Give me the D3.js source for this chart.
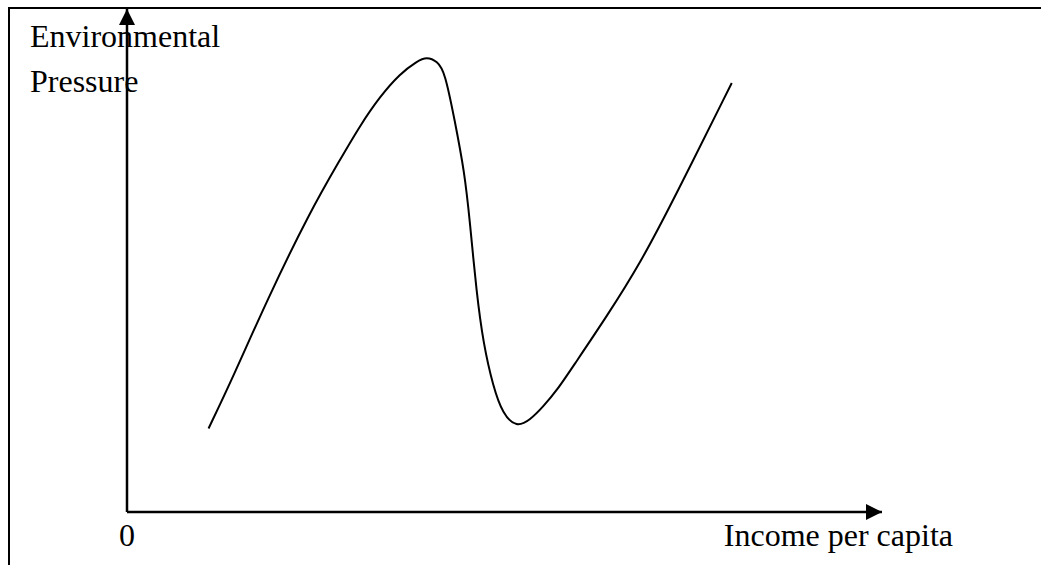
<!DOCTYPE html>
<html>
<head>
<meta charset="utf-8">
<script src="https://cdn.jsdelivr.net/npm/d3@7"></script>
<style>
  body { margin: 0; background: #fff; }
  svg text { font-family: "Liberation Serif", "Times New Roman", serif; fill: #000; }
</style>
</head>
<body>
<div id="chart"></div>
<script>
// income (x) and pressure (y), both on a 0..100 scale
var income = [10.8, 14.1, 18.5, 24.2, 28.2, 30.9, 33.5, 36.2, 38.4, 39.7, 41.1, 42.1, 43.4, 44.7, 45.4, 46.3, 47.2, 48.5, 49.8, 51.6, 53.4, 55.1, 57.0, 59.1, 63.6, 68.0, 72.3, 80.1];
var pressure = [16.6, 27.0, 42.0, 59.6, 70.0, 76.9, 82.6, 87.2, 89.6, 90.5, 89.6, 87.5, 77.9, 67.6, 58.0, 43.5, 33.5, 24.9, 19.4, 16.8, 18.3, 20.9, 24.3, 29.0, 39.0, 49.5, 61.8, 85.3];
var yLabel = ['Environmental', 'Pressure'];
var xLabel = 'Income per capita';
var originLabel = '0';

var width = 1041, height = 565;

var svg = d3.select('#chart')
  .append('svg')
  .attr('width', width)
  .attr('height', height);

var x = d3.scaleLinear().domain([0, 100]).range([127, 882]);
var y = d3.scaleLinear().domain([0, 100]).range([512, 9]);

// frame (top and left edge only)
svg.append('path')
  .attr('d', 'M9,' + height + ' V8 H' + width)
  .attr('fill', 'none')
  .attr('stroke', '#000')
  .attr('stroke-width', 2);

// labels go under the axes
svg.selectAll('.ylab')
  .data(yLabel)
  .enter()
  .append('text')
  .attr('class', 'ylab')
  .attr('x', 30)
  .attr('y', function(d, i) { return 47 + i * 45; })
  .style('font-size', '32px')
  .text(function(d) { return d; });

svg.append('text')
  .attr('x', x(0))
  .attr('y', 546)
  .attr('text-anchor', 'middle')
  .style('font-size', '32px')
  .text(originLabel);

svg.append('text')
  .attr('x', 953)
  .attr('y', 546)
  .attr('text-anchor', 'end')
  .style('font-size', '32px')
  .text(xLabel);

// arrow heads
var defs = svg.append('defs');
defs.append('marker')
  .attr('id', 'arrow')
  .attr('viewBox', '0 0 16 16')
  .attr('refX', 16)
  .attr('refY', 8)
  .attr('markerWidth', 16)
  .attr('markerHeight', 16)
  .attr('markerUnits', 'userSpaceOnUse')
  .attr('orient', 'auto')
  .append('path')
  .attr('d', 'M0,0 L16,8 L0,16 Z')
  .attr('fill', '#000');

// axes
svg.append('line')
  .attr('x1', x(0)).attr('y1', y(0))
  .attr('x2', x(0)).attr('y2', y(100))
  .attr('stroke', '#000')
  .attr('stroke-width', 2.5)
  .attr('marker-end', 'url(#arrow)');

svg.append('line')
  .attr('x1', x(0)).attr('y1', y(0))
  .attr('x2', x(100)).attr('y2', y(0))
  .attr('stroke', '#000')
  .attr('stroke-width', 2.5)
  .attr('marker-end', 'url(#arrow)');

// the N curve, smoothed
var line = d3.line()
  .x(function(d, i) { return x(income[i]); })
  .y(function(d) { return y(d); })
  .curve(d3.curveBasis);

svg.append('path')
  .datum(pressure)
  .attr('fill', 'none')
  .attr('stroke', '#000')
  .attr('stroke-width', 2)
  .attr('d', line);
</script>
</body>
</html>
